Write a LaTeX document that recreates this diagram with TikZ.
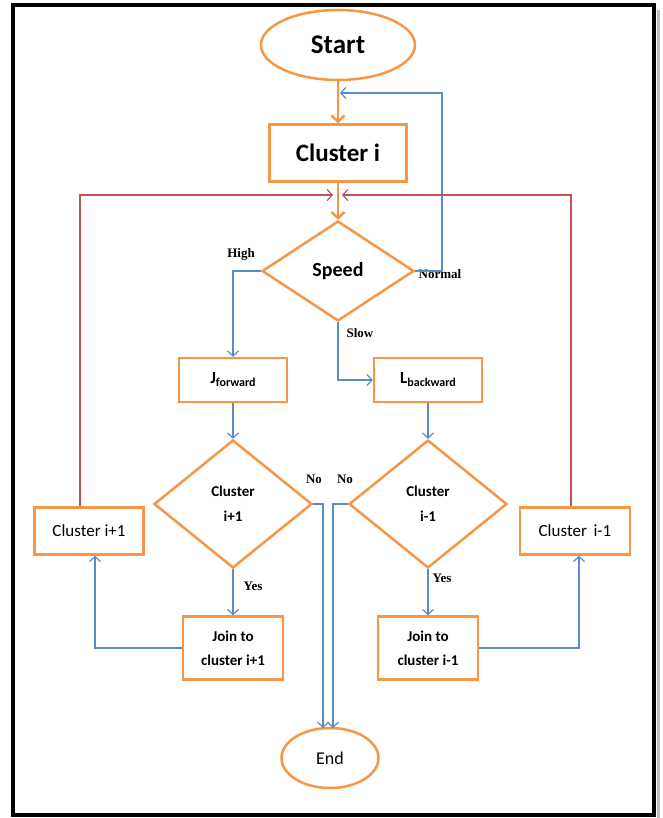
\documentclass[tikz,border=0pt]{standalone}
\usepackage{fontspec}
\setmainfont{Carlito}
\newfontfamily\labelfont{Liberation Serif}
\usepackage{xcolor}
\usetikzlibrary{
	arrows,arrows.meta,shapes
}
\definecolor{boxorange}{RGB}{247,150,70}
\definecolor{lineblue}{RGB}{90,140,200}
\definecolor{linered}{RGB}{200,80,80}

\begin{document}
\begin{tikzpicture}[x=1pt,y=-1pt,
		term/.style={ellipse,draw=boxorange,line width=2.5pt,inner sep=0pt},
		box/.style={rectangle,draw=boxorange,line width=2.5pt,inner sep=0pt,align=center},
		test/.style={diamond,draw=boxorange,line width=2.5pt,inner sep=0pt,align=center},
		lbl/.style={font=\labelfont\bfseries\fontsize{13}{13}\selectfont},
		flow/.style={->,draw=boxorange,line width=2.5pt,>={Straight Barb[length=6pt,width=13pt]}},
		link/.style={->,draw=lineblue,line width=1.2pt,>={Straight Barb[length=5pt,width=11pt]}},
		back/.style={->,draw=linered,line width=1.2pt,>={Straight Barb[length=5pt,width=11pt]}}]
		\useasboundingbox (0,0) rectangle (662,818);
		% frame
		\draw[gray!50,line width=3pt] (658,10) -- (658,818);
		\draw[line width=4pt] (13,5) rectangle (654,815);

		\node[term,minimum width=154pt,minimum height=70pt,font=\bfseries\fontsize{27}{30}\selectfont] (start) at (338,45) {Start};
		\node[box,minimum width=137pt,minimum height=57pt,font=\bfseries\fontsize{25}{28}\selectfont] (clusteri) at (338,153) {Cluster i};
		\node[test,minimum width=152pt,minimum height=100pt,font=\bfseries\fontsize{20}{22}\selectfont] (speed) at (338,271) {Speed};

		\node[box,minimum width=108pt,minimum height=44pt,font=\bfseries\fontsize{17}{18}\selectfont] (jfwd) at (233,380) {J\raisebox{-3pt}{\fontsize{12}{12}\selectfont forward}};
		\node[box,minimum width=108pt,minimum height=44pt,font=\bfseries\fontsize{17}{18}\selectfont] (lbwd) at (428,380) {L\raisebox{-3pt}{\fontsize{12}{12}\selectfont backward}};

		\node[test,minimum width=158pt,minimum height=128pt,font=\bfseries\fontsize{15}{25}\selectfont] (testfwd) at (233,504) {Cluster\\i+1};
		\node[test,minimum width=158pt,minimum height=128pt,font=\bfseries\fontsize{15}{25}\selectfont] (testbwd) at (428,504) {Cluster\\i-1};

		\node[box,minimum width=100pt,minimum height=63pt,font=\bfseries\fontsize{15}{24}\selectfont] (joinfwd) at (233,648) {Join to\\cluster i+1};
		\node[box,minimum width=100pt,minimum height=63pt,font=\bfseries\fontsize{15}{24}\selectfont] (joinbwd) at (428,648) {Join to\\cluster i-1};

		\node[box,minimum width=109pt,minimum height=47pt,font=\fontsize{17}{18}\selectfont] (nextfwd) at (89,531) {Cluster i+1};
		\node[box,minimum width=110pt,minimum height=47pt,font=\fontsize{17}{18}\selectfont] (nextbwd) at (575,531) {Cluster\, i-1};

		\node[term,minimum width=97pt,minimum height=60pt,font=\fontsize{18}{20}\selectfont] (end) at (330,758) {End};

		\coordinate (normalturn) at (442,93);
		\coordinate (normaltip) at (340,93);
		\coordinate (backL) at (333,195);
		\coordinate (backR) at (342,195);
		\coordinate (endL) at (323,728);
		\coordinate (endR) at (333,728);

		\node[lbl] (high) at (241,254) {High};
		\node[lbl] (normal) at (440,274) {Normal};
		\node[lbl] (slow) at (360,333) {Slow};
		\node[lbl] (nofwd) at (314,479) {No};
		\node[lbl] (nobwd) at (345,479) {No};
		\node[lbl] (yesfwd) at (253,586) {Yes};
		\node[lbl] (yesbwd) at (442,578) {Yes};
		%
		\path[flow]
		(start) edge (clusteri)
		(clusteri) edge (speed);
		\draw[link] (speed.east) -| (normalturn) -- (normaltip);
		\draw[link] (speed.west) -| (jfwd.north);
		\draw[link] (speed.south) |- (lbwd.west);
		\path[link]
		(jfwd) edge (testfwd)
		(lbwd) edge (testbwd)
		(testfwd) edge (joinfwd)
		(testbwd) edge (joinbwd);
		\draw[link] (joinfwd.west) -| ([xshift=6pt]nextfwd.south);
		\draw[link] (joinbwd.east) -| ([xshift=4pt]nextbwd.south);
		\draw[link] (testfwd.east) -| (endL);
		\draw[link] (testbwd.west) -| (endR);
		\draw[back] ([xshift=-9pt]nextfwd.north) |- (backL);
		\draw[back] ([xshift=-4pt]nextbwd.north) |- (backR);
	\end{tikzpicture}
\end{document}
